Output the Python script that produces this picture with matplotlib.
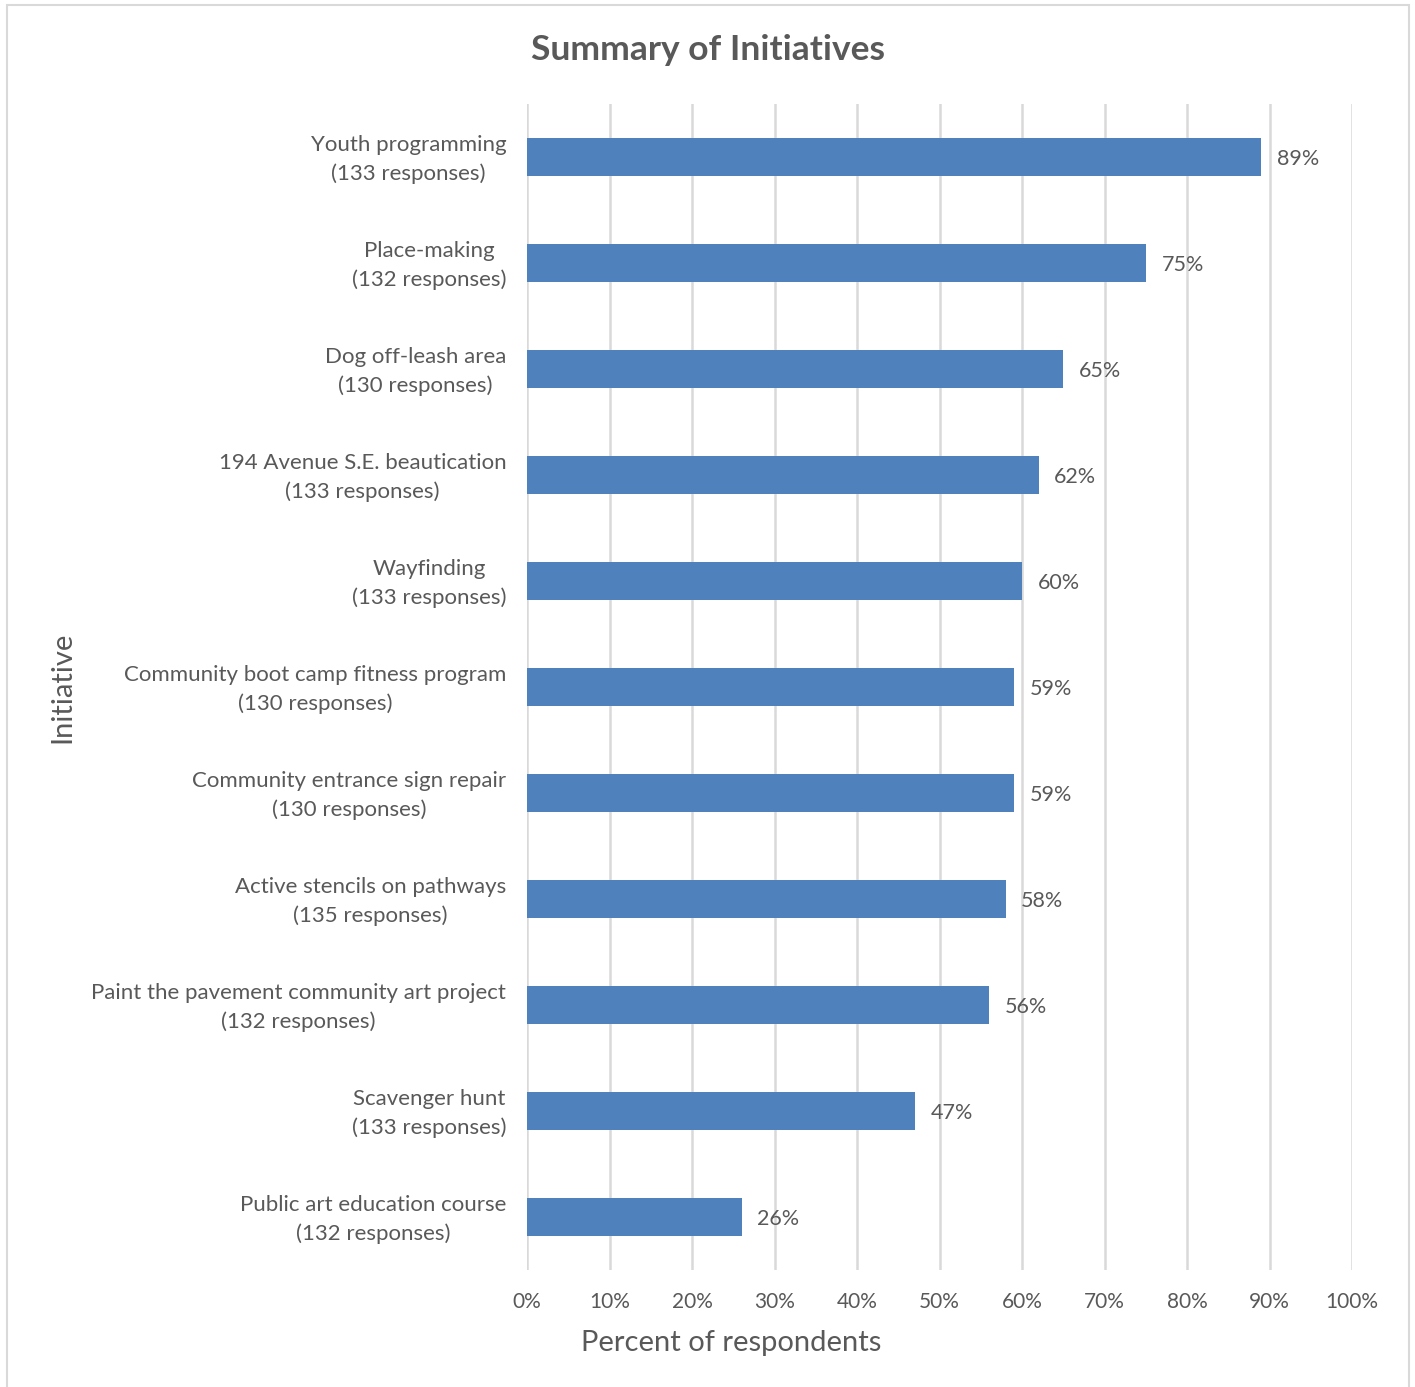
import matplotlib.pyplot as plt
from matplotlib.patches import Rectangle
from matplotlib.transforms import ScaledTranslation

plt.rcParams['font.family'] = ['Lato', 'DejaVu Sans']

initiatives = ["Youth programming", "Place-making", "Dog off-leash area",
               "194 Avenue S.E. beautication", "Wayfinding",
               "Community boot camp fitness program",
               "Community entrance sign repair", "Active stencils on pathways",
               "Paint the pavement community art project", "Scavenger hunt",
               "Public art education course"]
responses = [133, 132, 130, 133, 133, 130, 130, 135, 132, 133, 132]
percent = [89, 75, 65, 62, 60, 59, 59, 58, 56, 47, 26]

text_color = '#595959'
bar_color = '#4F81BD'

fig = plt.figure(figsize=(14.15, 13.87), dpi=100)
ax = fig.add_axes([527/1415, 1 - 1270/1387, (1352-527)/1415, (1270-104)/1387])

labels = [f"{n}\n({r} responses)" for n, r in zip(initiatives, responses)]
ypos = list(range(len(percent)))
ax.barh(ypos, percent, height=0.36, color=bar_color, zorder=3)
ax.set_ylim(len(percent) - 0.5, -0.5)
ax.set_xlim(0, 100)
ax.set_yticks(ypos)
ax.set_yticklabels(labels, fontsize=16, color=text_color, ha='right',
                   multialignment='center', linespacing=1.55)
ax.tick_params(axis='y', length=0, pad=15)
ax.set_xticks(range(0, 101, 10))
ax.set_xticklabels([f"{v}%" for v in range(0, 101, 10)], fontsize=15, color=text_color)
ax.tick_params(axis='x', length=0, pad=16)
ax.grid(axis='x', color='#D9D9D9', linewidth=1.8, zorder=0)
for s in ax.spines.values():
    s.set_visible(False)

# nudge the category labels up a few pixels
shift = ScaledTranslation(0, 4/100, fig.dpi_scale_trans)
for lbl in ax.get_yticklabels():
    lbl.set_transform(lbl.get_transform() + shift)

for y, v in zip(ypos, percent):
    ax.text(v + 1.9, y + 0.02, f"{v}%", va='center', ha='left', fontsize=15.5,
            color=text_color)

fig.text(731/1415, 1 - 1343/1387, "Percent of respondents", fontsize=21,
         color=text_color, ha='center', va='center')
fig.text(62/1415, 1 - 687/1387, "Initiative", rotation=90, fontsize=21,
         color=text_color, ha='center', va='center')
fig.text(708/1415, 1 - 50/1387, "Summary of Initiatives", fontsize=25.5,
         fontweight='bold', color=text_color, ha='center', va='center')

fig.patches.append(Rectangle((7/1415, -0.01), (1409-7)/1415, 1 - 5/1387 + 0.01,
                             transform=fig.transFigure, fill=False,
                             edgecolor='#D9D9D9', linewidth=1.5))

fig.savefig("out.png", dpi=100)
